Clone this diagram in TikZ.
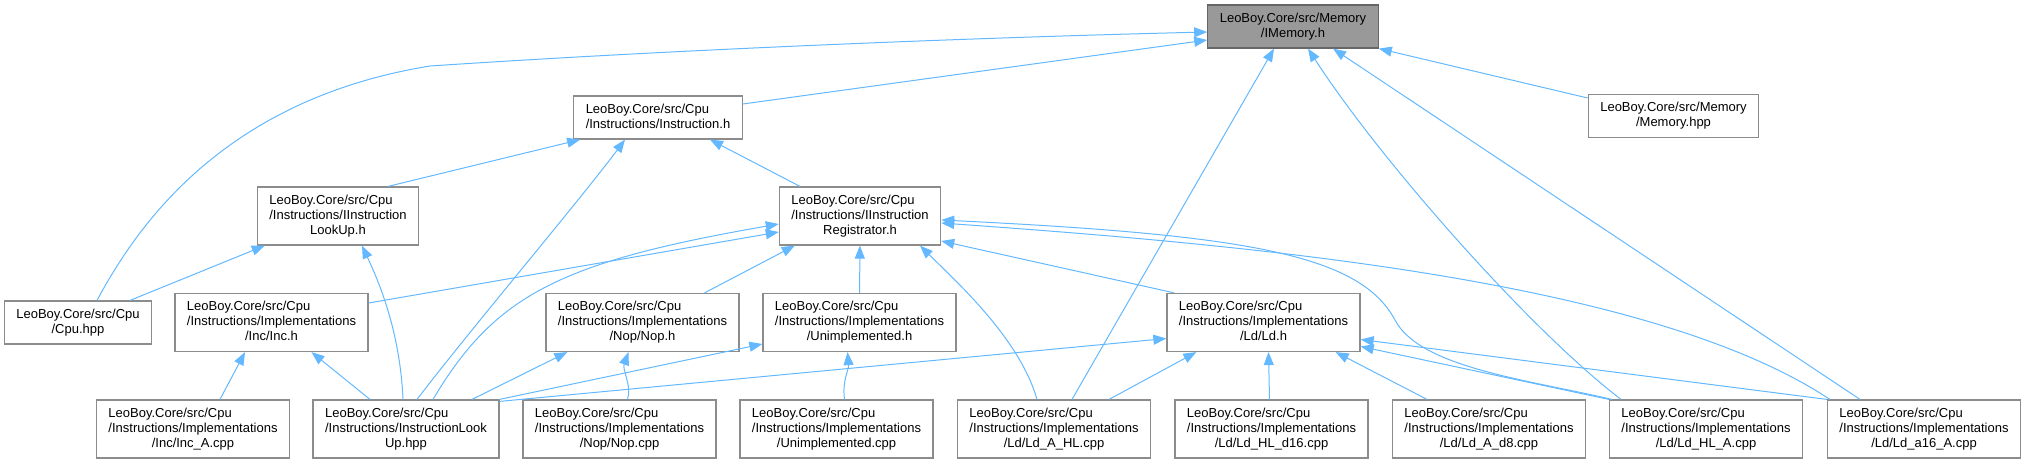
\documentclass[tikz,border=0pt]{standalone}
\usepackage{fontspec}
\setmainfont{Liberation Sans}
\usetikzlibrary{arrows.meta,calc}
\definecolor{edgeblue}{HTML}{63B8FF}
\definecolor{boxline}{HTML}{8C8C8C}
\definecolor{rootfill}{HTML}{999999}
\definecolor{rootline}{HTML}{666666}
\newcommand{\flbl}[2]{\begin{tabular}{@{}l@{}}#1\\\multicolumn{1}{@{}c@{}}{#2}\end{tabular}}

\begin{document}
\begin{tikzpicture}[x=1pt,y=-1pt,
  file/.style={draw=boxline,line width=1.2pt,fill=white,inner xsep=12pt,inner ysep=6.5pt,font=\fontsize{13}{15}\selectfont},
  root/.style={file,fill=rootfill,draw=rootline},
  dep/.style={-{Triangle[length=13pt,width=10pt]},draw=edgeblue,line width=1pt}
]
\useasboundingbox (0,0) rectangle (2026,464);

\node[root] (imem) at (1293,26.5) {\flbl{LeoBoy.Core/src/Memory}{/IMemory.h}};
\node[file] (instr) at (658,117.5) {\flbl{LeoBoy.Core/src/Cpu}{/Instructions/Instruction.h}};
\node[file] (memhpp) at (1673.5,116) {\flbl{LeoBoy.Core/src/Memory}{/Memory.hpp}};
\node[file] (ilookup) at (338,216) {\flbl{LeoBoy.Core/src/Cpu\\/Instructions/IInstruction}{LookUp.h}};
\node[file] (ireg) at (860,216) {\flbl{LeoBoy.Core/src/Cpu\\/Instructions/IInstruction}{Registrator.h}};
\node[file] (cpu) at (78,322.5) {\flbl{LeoBoy.Core/src/Cpu}{/Cpu.hpp}};
\node[file] (inc) at (271.5,322.5) {\flbl{LeoBoy.Core/src/Cpu\\/Instructions/Implementations}{/Inc/Inc.h}};
\node[file] (nop) at (642.5,322.5) {\flbl{LeoBoy.Core/src/Cpu\\/Instructions/Implementations}{/Nop/Nop.h}};
\node[file] (unimpl) at (859.5,322.5) {\flbl{LeoBoy.Core/src/Cpu\\/Instructions/Implementations}{/Unimplemented.h}};
\node[file] (ld) at (1263.5,322.5) {\flbl{LeoBoy.Core/src/Cpu\\/Instructions/Implementations}{/Ld/Ld.h}};
\node[file] (inca) at (193,429) {\flbl{LeoBoy.Core/src/Cpu\\/Instructions/Implementations}{/Inc/Inc\_A.cpp}};
\node[file] (lookhpp) at (406,429) {\flbl{LeoBoy.Core/src/Cpu\\/Instructions/InstructionLook}{Up.hpp}};
\node[file] (nopcpp) at (619.5,429) {\flbl{LeoBoy.Core/src/Cpu\\/Instructions/Implementations}{/Nop/Nop.cpp}};
\node[file] (unimplcpp) at (836.5,429) {\flbl{LeoBoy.Core/src/Cpu\\/Instructions/Implementations}{/Unimplemented.cpp}};
\node[file] (ldahl) at (1054,429) {\flbl{LeoBoy.Core/src/Cpu\\/Instructions/Implementations}{/Ld/Ld\_A\_HL.cpp}};
\node[file] (ldhld16) at (1271.5,429) {\flbl{LeoBoy.Core/src/Cpu\\/Instructions/Implementations}{/Ld/Ld\_HL\_d16.cpp}};
\node[file] (ldad8) at (1489,429) {\flbl{LeoBoy.Core/src/Cpu\\/Instructions/Implementations}{/Ld/Ld\_A\_d8.cpp}};
\node[file] (ldhla) at (1706,429) {\flbl{LeoBoy.Core/src/Cpu\\/Instructions/Implementations}{/Ld/Ld\_HL\_A.cpp}};
\node[file] (lda16a) at (1924,429) {\flbl{LeoBoy.Core/src/Cpu\\/Instructions/Implementations}{/Ld/Ld\_a16\_A.cpp}};

\draw[dep] ($(cpu.north)+(19,0)$) .. controls (135,230) and (220,100) .. (430,66) .. controls (700,48) and (1000,37) .. ($(imem.west)+(0,5.5)$);
\draw[dep] ($(instr.east)+(0,-13.5)$) -- ($(imem.west)+(0,13.5)$);
\draw[dep] ($(memhpp.west)+(0,-18)$) -- (imem.south east);
\draw[dep] ($(ldahl.north)+(18,0)$) -- ($(imem.south)+(-19,0)$);
\draw[dep] ($(ldhla.north)+(-85,0)$) .. controls (1530,330) and (1380,160) .. ($(imem.south)+(15,0)$);
\draw[dep] ($(lda16a.north)+(-64,0)$) -- ($(imem.south)+(40,0)$);

\draw[dep] ($(ilookup.north)+(50,0)$) -- ($(instr.south west)+(7,0)$);
\draw[dep] ($(lookhpp.north)+(11,0)$) .. controls (470,330) and (580,200) .. ($(instr.south)+(-33,0)$);
\draw[dep] ($(ireg.north)+(-60,0)$) -- ($(instr.south)+(52,0)$);

\draw[dep] ($(cpu.north)+(52,0)$) -- ($(ilookup.south west)+(8,0)$);
\draw[dep] ($(lookhpp.north)+(-3,0)$) .. controls (400,330) and (378,280) .. ($(ilookup.south)+(24,0)$);

\draw[dep] ($(inc.east)+(0,-19.5)$) -- ($(ireg.west)+(0,16)$);
\draw[dep] ($(lookhpp.north)+(27,0)$) .. controls (495,295) and (560,262) .. ($(ireg.west)+(0,8)$);
\draw[dep] ($(nop.north)+(62,0)$) -- ($(ireg.south west)+(16,0)$);
\draw[dep] (unimpl) -- (ireg);
\draw[dep] ($(ldahl.north)+(-17,0)$) .. controls (1020,340) and (960,285) .. ($(ireg.south)+(60,0)$);
\draw[dep] ($(ld.north west)+(8,0)$) -- ($(ireg.east)+(0,25)$);
\draw[dep] ($(ldhla.north west)+(3,0)$) .. controls (1530,380) and (1420,368) .. (1395,320) .. controls (1360,255) and (1250,235) .. ($(ireg.east)+(0,4)$);
\draw[dep] ($(lda16a.north west)+(3,0)$) .. controls (1650,280) and (1250,245) .. ($(ireg.east)+(0,7)$);

\draw[dep] ($(inca.north)+(27,0)$) -- ($(inc.south)+(-26.5,0)$);
\draw[dep] ($(lookhpp.north)+(-36,0)$) -- ($(inc.south)+(40,0)$);

\draw[dep] ($(lookhpp.north)+(66,0)$) -- ($(nop.south west)+(22,0)$);
\draw[dep] ($(nopcpp.north)+(8,0)$) .. controls (632,385) and (622,370) .. ($(nop.south)+(-14,0)$);

\draw[dep] (lookhpp.north east) -- ($(unimpl.west)+(0,21.5)$);
\draw[dep] ($(unimplcpp.north)+(8,0)$) .. controls (842,380) and (849,370) .. ($(unimpl.south)+(-12,0)$);

\draw[dep] ($(lookhpp.north east)+(0,2)$) -- ($(ld.west)+(0,16)$);
\draw[dep] ($(ldahl.north)+(55,0)$) -- ($(ld.south west)+(30,0)$);
\draw[dep] ($(ldhld16.north)+(-2,0)$) -- ($(ld.south)+(5,0)$);
\draw[dep] ($(ldad8.north)+(-62,0)$) -- ($(ld.south east)+(-25,0)$);
\draw[dep] (ldhla.north west) -- ($(ld.east)+(0,24)$);
\draw[dep] (lda16a.north west) -- ($(ld.east)+(0,17)$);
\end{tikzpicture}
\end{document}
